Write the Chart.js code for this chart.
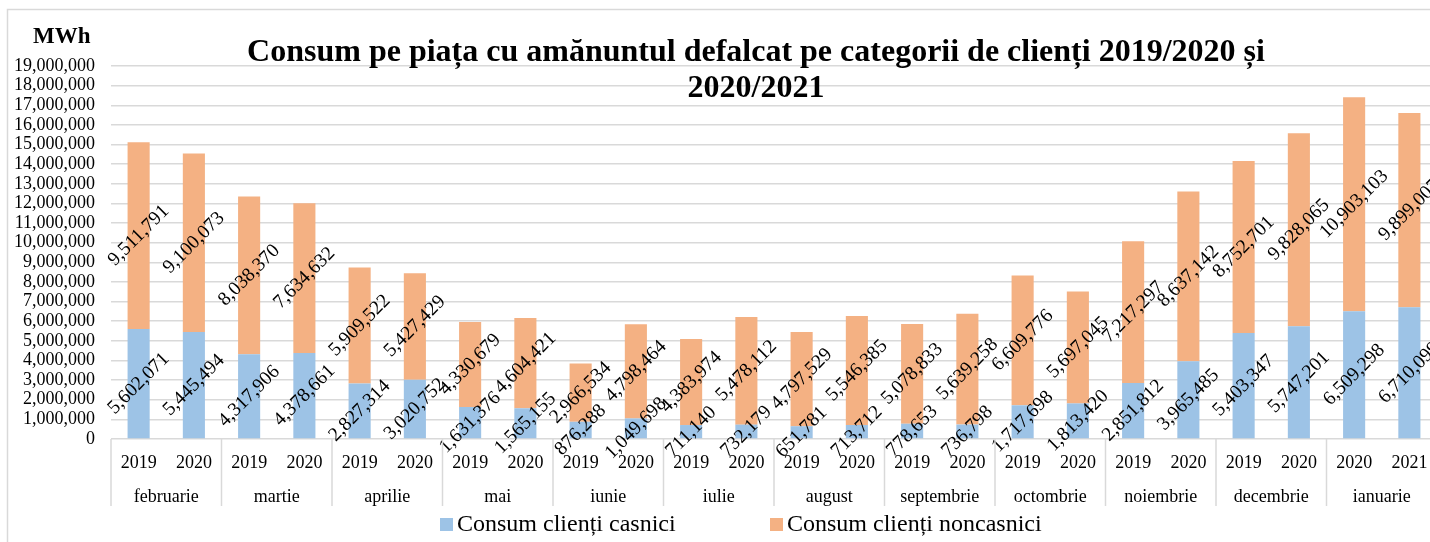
<!DOCTYPE html>
<html>
<head>
<meta charset="utf-8">
<script src="https://cdn.jsdelivr.net/npm/chart.js@4.4.1/dist/chart.umd.min.js"></script>
<style>
html,body{margin:0;padding:0;overflow:hidden;background:#fff;width:1430px;height:542px}
#wrap{position:relative;width:1440px;height:542px}
canvas{display:block}
</style>
</head>
<body>
<div id="wrap"><canvas id="c" width="1440" height="542"></canvas></div>
<script>
// ---- data ----
const months = ['februarie','martie','aprilie','mai','iunie','iulie','august','septembrie','octombrie','noiembrie','decembrie','ianuarie'];
const yearLabels = ['2019','2020','2019','2020','2019','2020','2019','2020','2019','2020','2019','2020',
                    '2019','2020','2019','2020','2019','2020','2019','2020','2019','2020','2020','2021'];
const casnici = [5602071,5445494,4317906,4378661,2827314,3020752,1631376,1565155,876288,1049698,711140,732179,
                 651781,713712,778653,736798,1717698,1813420,2851812,3965485,5403347,5747201,6509298,6710099];
const noncasnici = [9511791,9100073,8038370,7634632,5909522,5427429,4330679,4604421,2966534,4798464,4383974,5478112,
                    4797529,5546385,5078833,5639258,6609776,5697045,7217297,8637142,8752701,9828065,10903103,9899007];
const seriesNames = ['Consum clienți casnici','Consum clienți noncasnici'];
const titleLines = ['Consum pe piața cu amănuntul defalcat pe categorii de clienți 2019/2020 și','2020/2021'];
const unitLabel = 'MWh';
const yMax = 19000000;
const yStep = 1000000;

// ---- styling ----
const SERIF = "'Liberation Serif','Times New Roman',serif";
const COLORS = ['#9DC3E6','#F4B183'];
const GRID = '#d9d9d9';
const fmt = v => Number(v).toLocaleString('en-US');

const deco = {
  id: 'deco',
  beforeDraw(chart) {
    const ctx = chart.ctx;
    ctx.save();
    ctx.fillStyle = '#fff';
    ctx.fillRect(0, 0, chart.width, chart.height);
    ctx.strokeStyle = GRID;
    ctx.lineWidth = 1.5;
    ctx.strokeRect(7.5, 9.5, chart.width + 20, chart.height + 20);
    ctx.restore();
  },
  afterDatasetsDraw(chart) {
    const ctx = chart.ctx;
    ctx.save();
    ctx.font = '19.5px ' + SERIF;
    ctx.fillStyle = '#000';
    ctx.textAlign = 'center';
    ctx.textBaseline = 'middle';
    chart.data.datasets.forEach((ds, d) => {
      const meta = chart.getDatasetMeta(d);
      meta.data.forEach((bar, i) => {
        const p = bar.getProps(['x','y','base'], true);
        const cy = (p.y + p.base) / 2;
        ctx.save();
        ctx.translate(p.x, cy);
        ctx.rotate(-Math.PI / 4);
        ctx.fillText(fmt(ds.data[i]), 0, 0);
        ctx.restore();
      });
    });
    ctx.restore();
  },
  afterDraw(chart) {
    const ctx = chart.ctx;
    const xs = chart.scales.x;
    const area = chart.chartArea;
    const step = xs.getPixelForValue(1) - xs.getPixelForValue(0);
    ctx.save();
    // group separators
    ctx.strokeStyle = GRID;
    ctx.lineWidth = 1.5;
    for (let g = 0; g <= months.length; g++) {
      const xb = xs.getPixelForValue(2 * g) - step / 2;
      ctx.beginPath();
      ctx.moveTo(xb, area.bottom);
      ctx.lineTo(xb, area.bottom + 67);
      ctx.stroke();
    }
    // month labels
    ctx.fillStyle = '#000';
    ctx.font = '18px ' + SERIF;
    ctx.textAlign = 'center';
    ctx.textBaseline = 'middle';
    months.forEach((m, g) => {
      const cx = (xs.getPixelForValue(2 * g) + xs.getPixelForValue(2 * g + 1)) / 2;
      ctx.fillText(m, cx, 497);
    });
    // title
    ctx.font = 'bold 32px ' + SERIF;
    ctx.textBaseline = 'alphabetic';
    ctx.fillText(titleLines[0], 756, 61);
    ctx.fillText(titleLines[1], 756, 97);
    // unit
    ctx.font = 'bold 23px ' + SERIF;
    ctx.textAlign = 'left';
    ctx.fillText(unitLabel, 33, 43);
    // legend
    ctx.font = '24px ' + SERIF;
    ctx.textBaseline = 'middle';
    const legendX = [440, 770];
    chart.data.datasets.forEach((ds, d) => {
      ctx.fillStyle = ds.backgroundColor;
      ctx.fillRect(legendX[d], 518, 13, 13);
      ctx.fillStyle = '#000';
      ctx.fillText(ds.label, legendX[d] + 17, 525);
    });
    ctx.restore();
  }
};

new Chart(document.getElementById('c'), {
  type: 'bar',
  data: {
    labels: yearLabels,
    datasets: [
      { label: seriesNames[0], data: casnici, backgroundColor: COLORS[0], borderWidth: 0 },
      { label: seriesNames[1], data: noncasnici, backgroundColor: COLORS[1], borderWidth: 0 }
    ]
  },
  options: {
    responsive: false,
    animation: false,
    devicePixelRatio: 1,
    layout: { padding: { top: 66, right: 3, left: 0, bottom: 0 } },
    datasets: { bar: { barPercentage: 0.4, categoryPercentage: 1.0 } },
    plugins: { legend: { display: false }, title: { display: false }, tooltip: { enabled: false } },
    scales: {
      x: {
        stacked: true,
        grid: { display: false },
        border: { display: false },
        ticks: { color: '#000', font: { family: SERIF, size: 18 }, padding: 5, maxRotation: 0, autoSkip: false },
        afterFit(s) { s.height = 103; }
      },
      y: {
        stacked: true,
        min: 0,
        max: yMax,
        grid: { color: GRID, lineWidth: 1.5, drawTicks: false },
        border: { display: false },
        ticks: { stepSize: yStep, autoSkip: false, color: '#000', font: { family: SERIF, size: 18 }, padding: 16,
                 callback: v => fmt(v) },
        afterFit(s) { s.width = 111; }
      }
    }
  },
  plugins: [deco]
});
</script>
</body>
</html>
